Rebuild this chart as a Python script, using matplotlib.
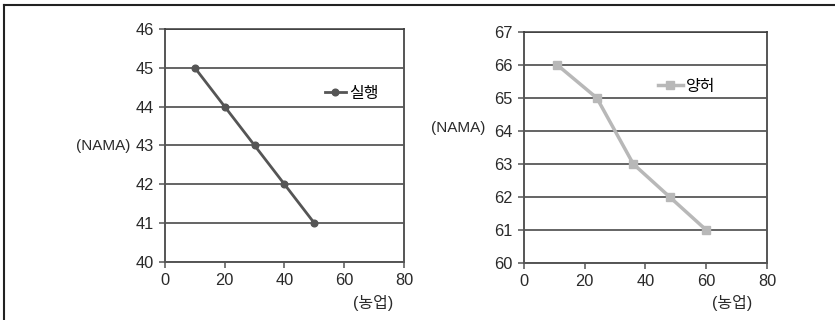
import matplotlib
matplotlib.use("Agg")
import matplotlib.pyplot as plt
from matplotlib.lines import Line2D

plt.rcParams['font.family'] = ['Liberation Sans', 'Noto Sans CJK KR']
plt.rcParams['font.size'] = 11

# 실행 (left) and 양허 (right) series
silhaeng_x = [10, 20, 30, 40, 50]
silhaeng_y = [45, 44, 43, 42, 41]
yangheo_x = [11, 24, 36, 48, 60]
yangheo_y = [66, 65, 63, 62, 61]

x_ticks = [0, 20, 40, 60, 80]
left_yticks = [40, 41, 42, 43, 44, 45, 46]
right_yticks = [60, 61, 62, 63, 64, 65, 66, 67]

fig = plt.figure(figsize=(8.35, 3.2), dpi=100)
ax1 = fig.add_axes([0.1976, 0.1813, 0.2862, 0.7281])
ax2 = fig.add_axes([0.6275, 0.1781, 0.2910, 0.7219])


def style_axes(ax, yticks):
    ax.set_xlim(0, 80)
    ax.set_ylim(yticks[0], yticks[-1])
    ax.set_xticks(x_ticks)
    ax.set_yticks(yticks)
    ax.yaxis.grid(True, color='#3a3a3a', linewidth=1.1)
    ax.set_axisbelow(True)
    for side in ['left', 'bottom', 'right', 'top']:
        ax.spines[side].set_color('#555555')
        ax.spines[side].set_linewidth(1.4)
    ax.spines['top'].set_color('#3a3a3a')
    ax.spines['top'].set_linewidth(1.1)
    ax.tick_params(direction='out', length=4, width=1.1, color='#555555',
                   labelcolor='#2a2a2a', labelsize=11.8, pad=4)


style_axes(ax1, left_yticks)
style_axes(ax2, right_yticks)

ax1.plot(silhaeng_x, silhaeng_y, color='#555555', linewidth=2, marker='o',
         markersize=4.8, label='실행', zorder=3, clip_on=False)
ax2.plot(yangheo_x, yangheo_y, color='#b8b8b8', linewidth=2.5, marker='s',
         markersize=6, label='양허', zorder=3, clip_on=False)

ax1.legend(loc='center left', bbox_to_anchor=(0.67, 0.725), frameon=False,
           handlelength=1.3, handletextpad=0.2, borderpad=0, borderaxespad=0,
           fontsize=11.5)
ax2.legend(loc='center left', bbox_to_anchor=(0.55, 0.766), frameon=False,
           handlelength=1.6, handletextpad=0.2, borderpad=0, borderaxespad=0,
           fontsize=11.5)

# axis captions
fig.text(103 / 835, 1 - 146 / 320, '(NAMA)', ha='center', va='center', color='#2a2a2a')
fig.text(458 / 835, 1 - 128 / 320, '(NAMA)', ha='center', va='center', color='#2a2a2a')
fig.text(373 / 835, 1 - 303 / 320, '(농업)', ha='center', va='center', color='#2a2a2a',
         fontsize=11.5)
fig.text(732 / 835, 1 - 303 / 320, '(농업)', ha='center', va='center', color='#2a2a2a',
         fontsize=11.5)

# outer frame (top and left edges)
fig.add_artist(Line2D([3.5 / 835, 1], [1 - 4.5 / 320, 1 - 4.5 / 320],
                      transform=fig.transFigure, color='#222222', linewidth=1.5))
fig.add_artist(Line2D([3.5 / 835, 3.5 / 835], [0, 1 - 4.5 / 320],
                      transform=fig.transFigure, color='#222222', linewidth=1.5))

fig.savefig('out.png', dpi=100)
